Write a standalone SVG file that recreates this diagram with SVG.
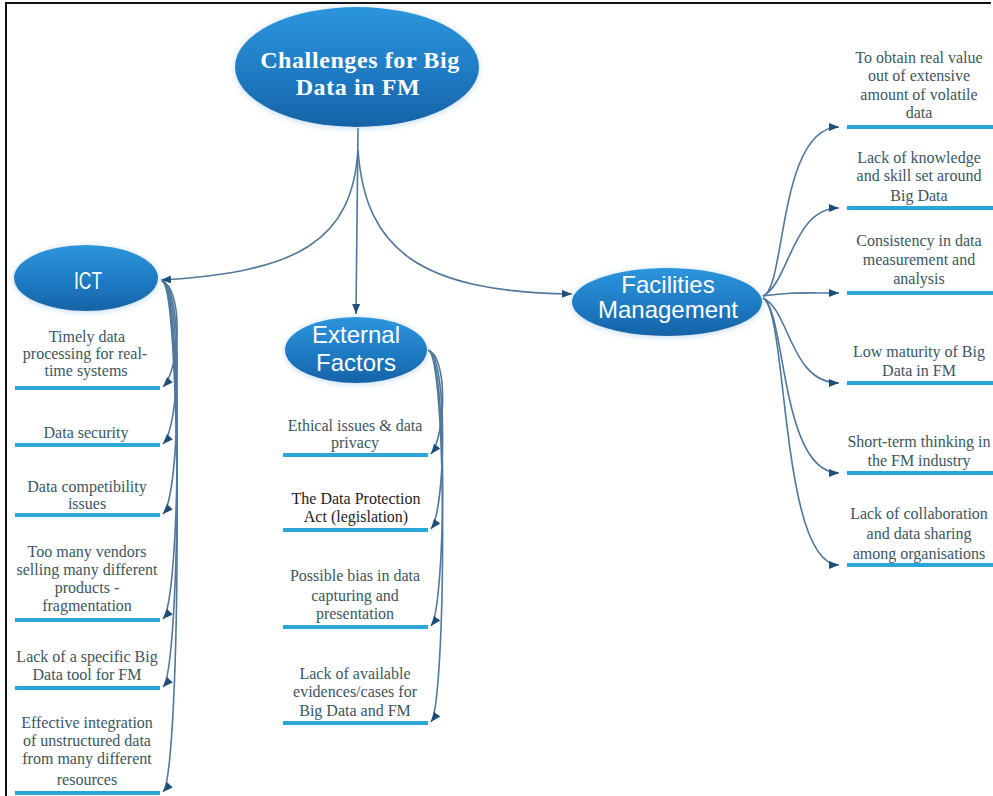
<svg xmlns="http://www.w3.org/2000/svg" width="993" height="796" viewBox="0 0 993 796">
<defs>
<linearGradient id="g" x1="0" y1="0" x2="0" y2="1">
<stop offset="0" stop-color="#2c96dd"/>
<stop offset="0.6" stop-color="#1e78c0"/>
<stop offset="1" stop-color="#1663a6"/>
</linearGradient>
<filter id="glow" x="-20%" y="-30%" width="140%" height="160%">
<feDropShadow dx="0" dy="1" stdDeviation="3" flood-color="#8fbfe3" flood-opacity="0.6"/>
</filter>
<marker id="ah" markerUnits="userSpaceOnUse" markerWidth="12" markerHeight="10" refX="10" refY="4" orient="auto">
<path d="M0,0 L10,4 L0,8 z" fill="#1f4e79"/>
</marker>
<style>
.node{fill:url(#g);filter:url(#glow)}
.ttl{font-family:"Liberation Serif","Times New Roman",serif;font-weight:bold;font-size:24px;letter-spacing:0.6px;fill:#fff;text-anchor:middle}
.sub{font-family:"Liberation Sans",Arial,sans-serif;font-size:24px;fill:#fff;text-anchor:middle}
.it{font-family:"Liberation Serif","Times New Roman",serif;font-size:16px;fill:#3b5661;text-anchor:middle}
.dk{fill:#1e1e1e}
.bar{stroke:#2aa7d8;stroke-width:4;fill:none}
.cn{fill:none;stroke:#50779c;stroke-width:1.6;marker-end:url(#ah)}
</style>
</defs>
<rect width="993" height="796" fill="#fff"/>
<path d="M6,796 L6,3 L991,3" fill="none" stroke="#111" stroke-width="2"/>

<g id="connectors">
<path class="cn" d="M358,128 L356,314"/>
<path class="cn" d="M358,150 C 352,240 300,272 161,280"/>
<path class="cn" d="M358,150 C 365,250 420,292 572,294"/>
<path class="cn" d="M162,281 C 183,288 181,368 163,387"/>
<path class="cn" d="M162,281 C 183,288 181,425 163,444"/>
<path class="cn" d="M162,281 C 183,288 181,495 163,514"/>
<path class="cn" d="M162,281 C 183,288 181,600 163,619"/>
<path class="cn" d="M162,281 C 183,288 181,668 163,687"/>
<path class="cn" d="M162,281 C 183,288 181,773 163,792"/>
<path class="cn" d="M428,350 C 448,356 446,435 431,454"/>
<path class="cn" d="M428,350 C 448,356 446,510 431,529"/>
<path class="cn" d="M428,350 C 448,356 446,607 431,626"/>
<path class="cn" d="M428,350 C 448,356 446,703 431,722"/>
<path class="cn" d="M763,296 C 786,290 778,127 839,127"/>
<path class="cn" d="M763,296 C 790,282 792,208 839,208"/>
<path class="cn" d="M763,296 C 790,292 800,293 839,293"/>
<path class="cn" d="M763,298 C 790,310 790,383 839,383"/>
<path class="cn" d="M763,298 C 786,310 780,473 839,473"/>
<path class="cn" d="M763,298 C 788,310 780,565 839,565"/>
</g>

<g id="root">
<ellipse class="node" cx="357" cy="67" rx="122" ry="60"/>
<text class="ttl" x="360" y="68">Challenges for Big</text>
<text class="ttl" x="358" y="95">Data in FM</text>
</g>

<g id="ict">
<ellipse class="node" cx="86" cy="278" rx="72" ry="33"/>
<text class="sub" x="88" y="289" textLength="28" lengthAdjust="spacingAndGlyphs">ICT</text>
</g>

<g id="external">
<ellipse class="node" cx="356" cy="350" rx="71" ry="33"/>
<text class="sub" x="356" y="343">External</text>
<text class="sub" x="356" y="371">Factors</text>
</g>

<g id="fm">
<ellipse class="node" cx="667" cy="302" rx="95" ry="34"/>
<text class="sub" x="668" y="293">Facilities</text>
<text class="sub" x="668" y="318">Management</text>
</g>

<g id="ict1">
<text class="it" x="87" y="342">Timely data</text>
<text class="it" x="85" y="359">processing for real-</text>
<text class="it" x="86" y="376">time systems</text>
<line class="bar" x1="15" y1="388" x2="160" y2="388"/>
</g>
<g id="ict2">
<text class="it" x="86" y="438">Data security</text>
<line class="bar" x1="15" y1="445" x2="160" y2="445"/>
</g>
<g id="ict3">
<text class="it" x="87" y="492">Data competibility</text>
<text class="it" x="87" y="509">issues</text>
<line class="bar" x1="15" y1="515" x2="160" y2="515"/>
</g>
<g id="ict4">
<text class="it" x="87" y="557">Too many vendors</text>
<text class="it" x="87" y="575">selling many different</text>
<text class="it" x="87" y="593">products -</text>
<text class="it" x="87" y="611">fragmentation</text>
<line class="bar" x1="15" y1="620" x2="160" y2="620"/>
</g>
<g id="ict5">
<text class="it" x="87" y="662">Lack of a specific Big</text>
<text class="it" x="87" y="680">Data tool for FM</text>
<line class="bar" x1="15" y1="688" x2="160" y2="688"/>
</g>
<g id="ict6">
<text class="it" x="87" y="728">Effective integration</text>
<text class="it" x="87" y="746">of unstructured data</text>
<text class="it" x="87" y="764">from many different</text>
<text class="it" x="87" y="785">resources</text>
<line class="bar" x1="15" y1="793" x2="160" y2="793"/>
</g>

<g id="ef1">
<text class="it" x="355" y="431">Ethical issues &amp; data</text>
<text class="it" x="355" y="448">privacy</text>
<line class="bar" x1="283" y1="455" x2="428" y2="455"/>
</g>
<g id="ef2">
<text class="it dk" x="356" y="504">The Data Protection</text>
<text class="it dk" x="356" y="522">Act (legislation)</text>
<line class="bar" x1="283" y1="530" x2="428" y2="530"/>
</g>
<g id="ef3">
<text class="it" x="355" y="581">Possible bias in data</text>
<text class="it" x="355" y="601">capturing and</text>
<text class="it" x="355" y="619">presentation</text>
<line class="bar" x1="283" y1="627" x2="428" y2="627"/>
</g>
<g id="ef4">
<text class="it" x="355" y="679">Lack of available</text>
<text class="it" x="355" y="697">evidences/cases for</text>
<text class="it" x="355" y="716">Big Data and FM</text>
<line class="bar" x1="283" y1="723" x2="428" y2="723"/>
</g>

<g id="fm1">
<text class="it" x="919" y="63">To obtain real value</text>
<text class="it" x="919" y="81">out of extensive</text>
<text class="it" x="919" y="100">amount of volatile</text>
<text class="it" x="919" y="118">data</text>
<line class="bar" x1="847" y1="127" x2="993" y2="127"/>
</g>
<g id="fm2">
<text class="it" x="919" y="163">Lack of knowledge</text>
<text class="it" x="919" y="181">and skill set around</text>
<text class="it" x="919" y="201">Big Data</text>
<line class="bar" x1="847" y1="208" x2="993" y2="208"/>
</g>
<g id="fm3">
<text class="it" x="919" y="246">Consistency in data</text>
<text class="it" x="919" y="265">measurement and</text>
<text class="it" x="919" y="284">analysis</text>
<line class="bar" x1="847" y1="293" x2="993" y2="293"/>
</g>
<g id="fm4">
<text class="it" x="919" y="357">Low maturity of Big</text>
<text class="it" x="919" y="376">Data in FM</text>
<line class="bar" x1="847" y1="383" x2="993" y2="383"/>
</g>
<g id="fm5">
<text class="it" x="919" y="447">Short-term thinking in</text>
<text class="it" x="919" y="466">the FM industry</text>
<line class="bar" x1="847" y1="473" x2="993" y2="473"/>
</g>
<g id="fm6">
<text class="it" x="919" y="519">Lack of collaboration</text>
<text class="it" x="919" y="539">and data sharing</text>
<text class="it" x="919" y="559">among organisations</text>
<line class="bar" x1="847" y1="565" x2="993" y2="565"/>
</g>
</svg>
